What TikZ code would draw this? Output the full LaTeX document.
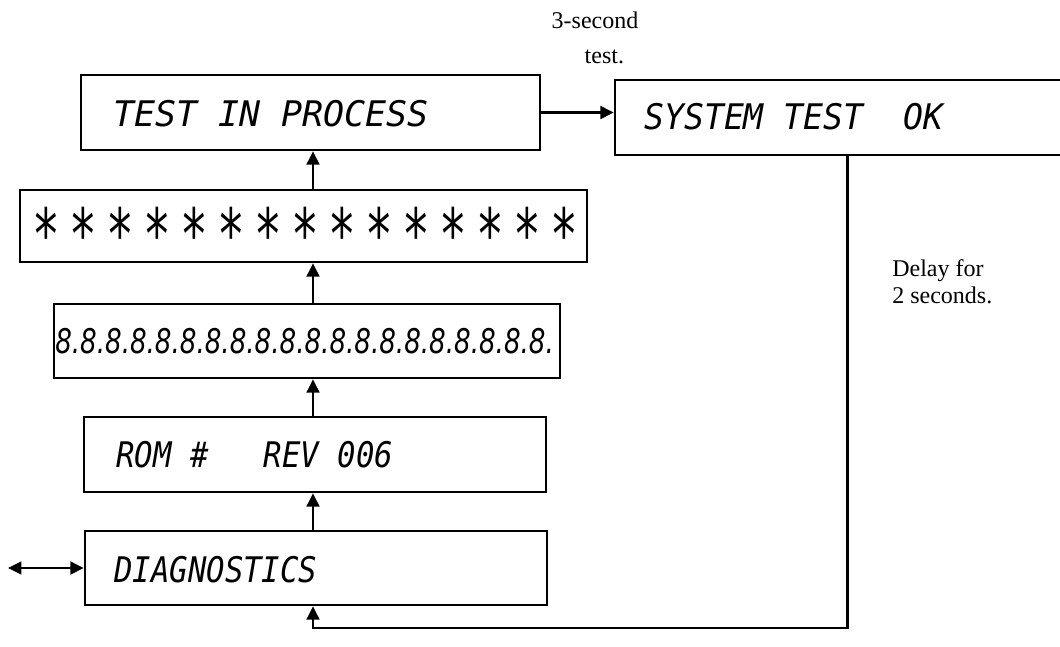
\documentclass[tikz,border=0pt]{standalone}
\usepackage{fontspec}
\setmainfont{Liberation Serif}
\newfontfamily\lcdfont{DejaVu Sans Mono}
\newfontfamily\lcdprop{DejaVu Sans}
\usetikzlibrary{arrows.meta,fit}
\newcommand\lcd{\lcdfont\itshape\fontsize{23}{23}\selectfont}
\newcommand\lcdline[2][1]{\scalebox{#1}[1.15]{\lcd #2}}
\newcommand\lcdstar{\makebox[27.75pt][l]{\raisebox{-15pt}{\scalebox{1.5}[2.0]{*}}}}
\begin{document}
\begin{tikzpicture}[x=0.75pt,y=-0.75pt,
  box/.style={draw, line width=1.8pt, inner sep=0pt},
  conn/.style={line width=1.7pt, -{Triangle[length=10pt,width=9.5pt]}},
  conn2/.style={line width=1.7pt, {Triangle[length=10pt,width=9.5pt]}-{Triangle[length=10pt,width=9.5pt]}},
  lcdtext/.style={anchor=base west, inner sep=0pt},
  note/.style={inner sep=0pt, font=\fontsize{18}{20}\selectfont}]
\useasboundingbox (0,0) rectangle (1060,646);
% boxes
\node[box, fit={(81,75) (540,150)}] (A) {};
\node[box, fit={(615,80) (1080,155)}] (B) {};
\node[box, fit={(20,190) (587,262)}] (S) {};
\node[box, fit={(54,304) (560,378)}] (E) {};
\node[box, fit={(84,417) (546,492)}] (R) {};
\node[box, fit={(85,531) (547,605)}] (D) {};
% texts
\node[lcdtext] (tA) at (113,126) {\lcdline[1.14]{TEST IN PROCESS}};
\node[lcdtext] (tB) at (644,129) {\lcdline[1.08]{SYSTEM TEST\ \ OK}};
\node[lcdtext] (tS) at (32,236) {\lcdline{\lcdstar\lcdstar\lcdstar\lcdstar\lcdstar\lcdstar\lcdstar\lcdstar\lcdstar\lcdstar\lcdstar\lcdstar\lcdstar\lcdstar\lcdstar}};
\node[lcdtext] (tE) at (55,353) {\scalebox{1}[1.3]{\lcdprop\itshape\fontsize{19.6}{20}\selectfont 8.8.8.8.8.8.8.8.8.8.8.8.8.8.8.8.8.8.8.8.}};
\node[lcdtext] (tR) at (116,467) {\lcdline{ROM \#\ \ \ REV 006}};
\node[lcdtext] (tD) at (114,582) {\lcdline{DIAGNOSTICS}};
% notes
\node[note, align=center, anchor=base] (n3) at (595,63) {3-second\\[6pt]\hspace*{14pt}test.};
\node[note, align=left, anchor=base west] (nd) at (892,303) {Delay for\\2 seconds.};
% connectors
\coordinate (ax) at (313,0);
\coordinate (fb) at (0,628);
\coordinate (dl) at (8,568);
\draw[conn] (D.north -| ax) -- (R.south -| ax);
\draw[conn] (R.north -| ax) -- (E.south -| ax);
\draw[conn] (E.north -| ax) -- (S.south -| ax);
\draw[conn] (S.north -| ax) -- (A.south -| ax);
\draw[conn] (A.east) -- (A.east -| B.west);
\draw[conn] (B.south) -- (B.south |- fb) -| (D.south -| ax);
\draw[conn2] (dl) -- (D.west |- dl);
\end{tikzpicture}
\end{document}
